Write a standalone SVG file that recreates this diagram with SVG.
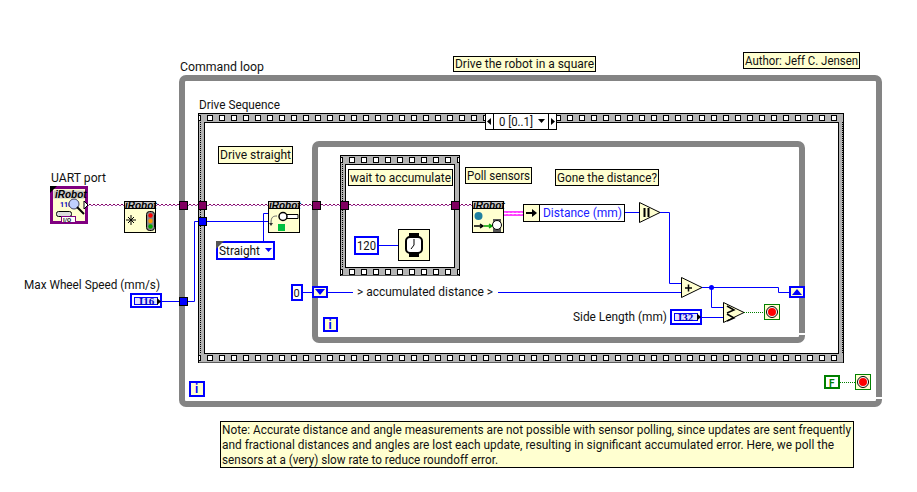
<svg xmlns="http://www.w3.org/2000/svg" width="917" height="492" viewBox="0 0 917 492">
<style>
text{font-family:"Roboto","Open Sans","DejaVu Sans",sans-serif;font-size:12px;fill:#111}
.note{fill:#ffffd0;stroke:#000;stroke-width:1}
.loop{fill:none;stroke:#848484;stroke-width:6}
.w{fill:none;stroke:#0000ff;stroke-width:1}
.wp{fill:none;stroke:#800060;stroke-width:1;stroke-dasharray:2 2}
.wq{fill:none;stroke:#a040a0;stroke-width:1;stroke-dasharray:2 2;stroke-dashoffset:2}
.g{fill:none;stroke:#008000;stroke-width:1;stroke-dasharray:1 1}
.tp{fill:#800060;stroke:#000;stroke-width:1}
.tb{fill:#0000ff;stroke:#000;stroke-width:1}
.ctl{fill:#fff;stroke:#0000ff;stroke-width:2}
.prim{fill:#ffffd0;stroke:#000;stroke-width:1}
.hdr{fill:#c8c8c8;stroke:#000;stroke-width:1}
.ir{font-family:"Liberation Sans",Arial,sans-serif;font-size:10px;font-weight:bold;font-style:italic;fill:#000}
.mono{font-family:"Liberation Serif",serif;font-size:11px;font-weight:bold;fill:#0000c0}
</style>
<defs>
<pattern id="filmT" x="204" y="114" width="12" height="8" patternUnits="userSpaceOnUse">
<rect width="12" height="8" fill="#b4b4b4"/><rect x="3.500" y="1.500" width="5" height="5" fill="#fff" stroke="#000"/>
</pattern>
<pattern id="filmB" x="204" y="354" width="12" height="9" patternUnits="userSpaceOnUse">
<rect width="12" height="9" fill="#b4b4b4"/><rect x="3.500" y="1.500" width="5" height="5" fill="#fff" stroke="#000"/>
</pattern>
<pattern id="filmI" x="344" y="155" width="12" height="9" patternUnits="userSpaceOnUse">
<rect width="12" height="9" fill="#b4b4b4"/><rect x="5.500" y="2.500" width="5" height="5" fill="#fff" stroke="#000"/>
</pattern>
<pattern id="filmJ" x="344" y="268" width="12" height="8" patternUnits="userSpaceOnUse">
<rect width="12" height="8" fill="#b4b4b4"/><rect x="5.500" y="1.500" width="5" height="5" fill="#fff" stroke="#000"/>
</pattern>
</defs>
<rect width="917" height="492" fill="#fff"/>

<g id="command-loop">
<rect class="loop" x="182" y="78" width="697" height="326" rx="4"/>
<rect x="876" y="397" width="6" height="2" fill="#fff"/>
<text x="180" y="71" textLength="84" lengthAdjust="spacingAndGlyphs">Command loop</text>
</g>
<g id="drive-sequence">
<text x="199" y="109" textLength="81" lengthAdjust="spacingAndGlyphs">Drive Sequence</text>
<rect x="198.500" y="113.500" width="645" height="249" fill="#b4b4b4" stroke="#000"/>
<rect x="199" y="114" width="644" height="8" fill="url(#filmT)"/>
<rect x="199" y="354" width="644" height="8.500" fill="url(#filmB)"/>
<path d="M198.500 122V354M200.500 122V354M842.500 122V354" stroke="#000" stroke-dasharray="1 1" fill="none"/>
<rect x="204.500" y="122.500" width="634" height="231" fill="#fff" stroke="#000"/>
</g>
<g id="inner-loop">
<rect class="loop" x="315" y="144" width="487" height="196" rx="4"/>
<rect x="799" y="333" width="6" height="2" fill="#fff"/>
</g>
<g id="wait-sequence">
<rect x="340.500" y="155.500" width="119" height="120" fill="#b4b4b4" stroke="#000"/>
<rect x="341" y="156" width="118" height="8" fill="url(#filmI)"/>
<rect x="341" y="268" width="118" height="7.500" fill="url(#filmJ)"/>
<path d="M340.500 164V268M342.500 164V268M459.500 164V268" stroke="#000" stroke-dasharray="1 1" fill="none"/>
<rect x="345.500" y="164.500" width="109" height="103" fill="#fff" stroke="#000"/>
</g>

<g id="connectors">
<path class="wp" d="M85 204.500H472"/><path class="wq" d="M85 205.500H472"/>
<path class="w" d="M162 301.500H194.500V221.500H268"/>
<path class="w" d="M263.500 241V213.500H270"/>
<path class="w" d="M379 245.500H398"/>
<path d="M504 212H523M504 215H523" fill="none" stroke="#ff00ff" stroke-width="1.500"/>
<path d="M504 213.500H523" fill="none" stroke="#fff" stroke-width="1.500" stroke-dasharray="2 2"/>
<path class="w" d="M625 212.500H639"/>
<path class="w" d="M660 212.500H669.500V283.500H681"/>
<path class="w" d="M303 292.500H312"/>
<path class="w" d="M328 292.500H353"/>
<path class="w" d="M498 292.500H681"/>
<path class="w" d="M702 287.500H778.500V292.500H789"/>
<path class="w" d="M711.500 287.500V307.500H723"/>
<path class="w" d="M702 317.500H723"/>
<circle cx="711.500" cy="287.500" r="2.500" fill="#0000ff"/>
<path class="g" d="M744 312.500H764"/>
<path class="g" d="M840 382.500H855"/>
</g>

<g id="tunnels">
<rect class="tp" x="179.500" y="201.500" width="8" height="8"/>
<rect class="tp" x="198.500" y="201.500" width="8" height="8"/>
<rect class="tp" x="312.500" y="201.500" width="8" height="8"/>
<rect class="tp" x="340.500" y="201.500" width="8" height="8"/>
<rect class="tp" x="451.500" y="201.500" width="8" height="8"/>
<rect class="tb" x="198.500" y="217.500" width="8" height="8"/>
<rect class="tb" x="179.500" y="297.500" width="8" height="8"/>
</g>

<g id="selector">
<rect x="485.500" y="113.500" width="71" height="16" fill="#fff" stroke="#000"/>
<path d="M493.500 113.500V129.500M548.500 113.500V129.500" stroke="#000" fill="none"/>
<path d="M491 118V125L487 121.500ZM551 118V125L555 121.500ZM538 119H545L541.500 123Z" fill="#000"/>
<text x="499" y="126" textLength="34" lengthAdjust="spacingAndGlyphs">0 [0..1]</text>
</g>

<g id="note-author"><rect class="note" x="743.500" y="52.500" width="116" height="16"/><text x="745" y="65" textLength="113" lengthAdjust="spacingAndGlyphs">Author: Jeff C. Jensen</text></g>
<g id="note-title"><rect class="note" x="453.500" y="56.500" width="142" height="15"/><text x="455" y="68" textLength="139" lengthAdjust="spacingAndGlyphs">Drive the robot in a square</text></g>
<g id="note-drive-straight"><rect class="note" x="218.500" y="146.500" width="74" height="17"/><text x="220" y="159" textLength="71" lengthAdjust="spacingAndGlyphs">Drive straight</text></g>
<g id="note-wait"><rect class="note" x="348.500" y="169.500" width="104" height="16"/><text x="350" y="182" textLength="101" lengthAdjust="spacingAndGlyphs">wait to accumulate</text></g>
<g id="note-poll"><rect class="note" x="465.500" y="167.500" width="66" height="16"/><text x="467" y="180" textLength="63" lengthAdjust="spacingAndGlyphs">Poll sensors</text></g>
<g id="note-gone"><rect class="note" x="555.500" y="169.500" width="103" height="16"/><text x="557" y="182" textLength="100" lengthAdjust="spacingAndGlyphs">Gone the distance?</text></g>
<g id="note-main"><rect class="note" x="220.500" y="421.500" width="633" height="46"/>
<text x="222" y="434" textLength="629" lengthAdjust="spacingAndGlyphs">Note: Accurate distance and angle measurements are not possible with sensor polling, since updates are sent frequently</text>
<text x="222" y="449" textLength="612" lengthAdjust="spacingAndGlyphs">and fractional distances and angles are lost each update, resulting in significant accumulated error. Here, we poll the</text>
<text x="222" y="464" textLength="276" lengthAdjust="spacingAndGlyphs">sensors at a (very) slow rate to reduce roundoff error.</text>
</g>

<g id="uart-port">
<text x="51" y="182" textLength="55" lengthAdjust="spacingAndGlyphs">UART port</text>
<rect x="51.500" y="187.500" width="35" height="35" fill="#ffffd0" stroke="#800080" stroke-width="3"/>
<rect x="53.500" y="190.500" width="31" height="8" fill="#c8c8c8"/>
<text class="ir" x="55" y="198">iRobot</text>
<path d="M50 186H57L50 193Z" fill="#000"/>
<text x="60" y="207" style="font-size:7px;font-weight:bold;fill:#0000c0">110</text>
<circle cx="74" cy="204" r="5" fill="#c0d0ff" stroke="#446"/>
<path d="M77 207L84 214" stroke="#000" stroke-width="2"/>
<rect x="56.500" y="211.500" width="15" height="5" rx="2" fill="#ddd" stroke="#000"/>
<rect x="61.500" y="216.500" width="14" height="6" fill="#fff" stroke="#800080"/>
<text x="63" y="222" style="font-size:6px;font-weight:bold">I/O</text>
<path d="M84 201L88 205L84 209Z" fill="#fff" stroke="#000"/>
</g>

<g id="init-vi">
<rect class="prim" x="124.500" y="201.500" width="31" height="31"/>
<rect class="hdr" x="124.500" y="201.500" width="31" height="7"/>
<text class="ir" x="125" y="209">iRobot</text>
<path d="M131 215V225M126 220H136M128 217L134 223M134 217L128 223" stroke="#000" fill="none"/>
<rect x="146.500" y="211.500" width="8" height="19" rx="3" fill="#888" stroke="#000"/>
<circle cx="150.500" cy="215.500" r="2.200" fill="#f00"/><circle cx="150.500" cy="221" r="2.200" fill="#f90"/><circle cx="150.500" cy="226.500" r="2.200" fill="#0a0"/>
</g>

<g id="drive-vi">
<rect class="prim" x="268.500" y="201.500" width="31" height="31"/>
<rect class="hdr" x="268.500" y="201.500" width="31" height="7"/>
<text class="ir" x="269" y="209">iRobot</text>
<path d="M281 214.500H298V218.500H281" fill="#fff" stroke="#000"/>
<circle cx="283" cy="216.500" r="4" fill="#fff" stroke="#000" stroke-width="1.500"/>
<rect x="278" y="224" width="7" height="7" fill="#00c040"/>
<path d="M271 223C271 217 273 216 277 216" fill="none" stroke="#666"/>
<path d="M269 223H273L271 226Z" fill="#333"/>
</g>

<g id="straight-enum">
<rect class="ctl" x="217" y="242" width="57" height="17"/>
<path d="M216 241H224L216 249Z" fill="#555"/>
<text x="219" y="255" textLength="41" lengthAdjust="spacingAndGlyphs">Straight</text>
<path d="M265 248H272L268.500 252Z" fill="#0000ff"/>
</g>

<g id="max-wheel-speed">
<text x="24" y="289" textLength="136" lengthAdjust="spacingAndGlyphs">Max Wheel Speed (mm/s)</text>
<rect class="ctl" x="131" y="294" width="30" height="13"/>
<rect x="134.500" y="297.500" width="23" height="7" fill="#e4e4ff" stroke="#0000ff"/>
<text class="mono" x="139" y="305">I16</text>
<path d="M157 298L161 301.500L157 305Z" fill="#000"/>
</g>

<g id="wait-const"><rect class="ctl" x="355" y="237" width="23" height="17"/><text x="357" y="250" textLength="19" lengthAdjust="spacingAndGlyphs">120</text></g>
<g id="wait-fn">
<rect class="prim" x="398.500" y="229.500" width="31" height="31"/>
<rect x="409" y="233" width="10" height="5" fill="#000"/><rect x="409" y="252" width="10" height="5" fill="#000"/>
<rect x="406" y="237" width="16" height="16" rx="4" fill="#fff" stroke="#000" stroke-width="2"/>
<path d="M414 239V245L411 249" fill="none" stroke="#000"/>
</g>

<g id="poll-vi">
<rect class="prim" x="472.500" y="201.500" width="31" height="31"/>
<rect class="hdr" x="472.500" y="201.500" width="31" height="7"/>
<text class="ir" x="473" y="209">iRobot</text>
<circle cx="478.500" cy="216" r="4" fill="#2080a0"/>
<path d="M474 226H482M480 224L483 226L480 228" stroke="#000" stroke-width="1.500" fill="none"/>
<path d="M484 226H491M489 224L492 226L489 228" stroke="#00a000" stroke-width="1.500" fill="none"/>
<rect x="493" y="219" width="8" height="13" fill="#555"/>
<circle cx="497" cy="225" r="4.500" fill="#fff" stroke="#000"/>
</g>

<g id="unbundle">
<rect x="523.500" y="204.500" width="101" height="17" fill="#fff" stroke="#000"/>
<rect x="523.500" y="204.500" width="16" height="17" fill="#ffffd0" stroke="#000"/>
<path d="M526 212H532V209L537 213L532 217V214H526Z" fill="#000"/>
<text x="543" y="217" style="fill:#2020ff" textLength="79" lengthAdjust="spacingAndGlyphs">Distance (mm)</text>
</g>

<g id="to-double"><path class="prim" d="M639.500 202.500V222.500L660 212.500Z"/><path d="M644.500 208V217M648.500 208V217" stroke="#000" stroke-width="2"/></g>
<g id="add"><path class="prim" d="M681.500 277.500V297.500L702 287.500Z"/><path d="M685 288H692M688.500 284.500V291.500" stroke="#000" stroke-width="1.500"/></g>
<g id="greater"><path class="prim" d="M723.500 302.500V322.500L744 312.500Z"/><path d="M727 306L734 310L727 313M727 314L734 318L727 321" fill="none" stroke="#000" stroke-width="1.500"/></g>

<g id="side-length">
<text x="573" y="321" textLength="94" lengthAdjust="spacingAndGlyphs">Side Length (mm)</text>
<rect class="ctl" x="671" y="310" width="30" height="14"/>
<rect x="674.500" y="313.500" width="23" height="7" fill="#e4e4ff" stroke="#0000ff"/>
<text class="mono" x="678" y="321">I32</text>
<path d="M697 313.500L701 317L697 320.500Z" fill="#000"/>
</g>

<g id="stop-inner"><rect x="764.500" y="304.500" width="15" height="15" fill="#ffffd0" stroke="#008000"/><circle cx="772" cy="312" r="5.500" fill="#fff" stroke="#000"/><circle cx="772" cy="312" r="4" fill="#f00"/></g>
<g id="shift-left"><rect x="292" y="285" width="10" height="15" fill="#fff" stroke="#0000ff" stroke-width="2"/><text x="293.500" y="296.500" style="font-size:11px">0</text>
<rect x="313" y="287" width="14" height="10" fill="#ffffd0" stroke="#0000ff" stroke-width="2"/><path d="M315 289H325L320 295Z" fill="#0000ff"/></g>
<g id="acc-label"><text x="357" y="296" textLength="136" lengthAdjust="spacingAndGlyphs">&gt; accumulated distance &gt;</text></g>
<g id="shift-right"><rect x="790" y="287" width="14" height="10" fill="#ffffd0" stroke="#0000ff" stroke-width="2"/><path d="M792 295H802L797 289Z" fill="#0000ff"/></g>
<g id="iter-inner"><rect x="324" y="318" width="13" height="13" fill="#ffffd0" stroke="#0000ff" stroke-width="2"/><text x="328.500" y="329" style="font-size:12px;font-weight:bold;fill:#0000ff">i</text></g>
<g id="iter-outer"><rect x="190" y="382" width="14" height="14" fill="#ffffd0" stroke="#0000ff" stroke-width="2"/><text x="195" y="393" style="font-size:12px;font-weight:bold;fill:#0000ff">i</text></g>
<g id="false-const"><rect x="825" y="376" width="14" height="12" fill="#fff" stroke="#008000" stroke-width="2"/><text x="829" y="386.500" style="font-size:10px;font-weight:bold;fill:#008000">F</text></g>
<g id="stop-outer"><rect x="855.500" y="374.500" width="15" height="15" fill="#ffffd0" stroke="#008000"/><circle cx="863" cy="382" r="5.500" fill="#fff" stroke="#000"/><circle cx="863" cy="382" r="4" fill="#f00"/></g>
</svg>
